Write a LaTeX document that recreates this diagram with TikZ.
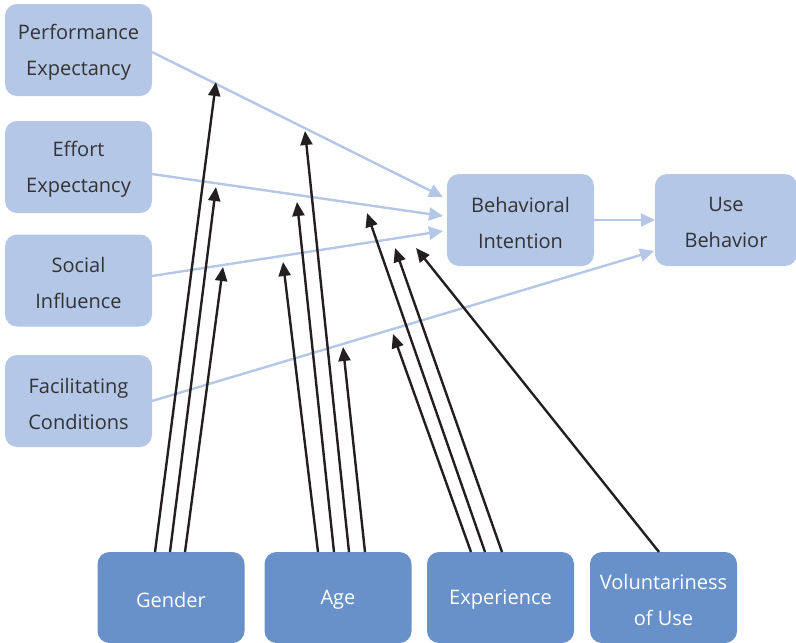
\documentclass[tikz,border=0pt]{standalone}
\usepackage{fontspec}
\setmainfont{Open Sans}
\usetikzlibrary{arrows.meta}
\definecolor{lightbox}{HTML}{B4C7E7}
\definecolor{darkbox}{HTML}{6891CA}
\definecolor{txt}{HTML}{333333}
\definecolor{blk}{HTML}{231F20}
\tikzset{
  topbox/.style={draw=none, fill=lightbox, rounded corners=12pt, minimum width=147pt, minimum height=92pt,
    inner sep=0pt},
  botbox/.style={draw=none, fill=darkbox, rounded corners=12pt, minimum width=147pt, minimum height=91pt,
    inner sep=0pt},
  toptext/.style={inner sep=0pt, align=center, text=txt, font=\fontsize{20}{36}\selectfont, yshift=-2.5pt},
  bottext/.style={inner sep=0pt, align=center, text=white, font=\fontsize{20}{36}\selectfont, yshift=-2.5pt},
  blueline/.style={draw=lightbox, line width=2.4pt, -{Triangle[length=14pt,width=13pt]}},
  modline/.style={draw=blk, line width=2.4pt, -{Triangle[length=14pt,width=12pt]}},
}
\begin{document}
\begin{tikzpicture}[x=1pt,y=-1pt]
\useasboundingbox (0,0) rectangle (796,643);
% top boxes
\node[topbox] (pe) at (78.5,50) {};
\node[toptext] (peT) at (pe.center) {Performance\\Expectancy};
\node[topbox] (ee) at (78.5,167) {};
\node[toptext] (eeT) at (ee.center) {Effort\\Expectancy};
\node[topbox] (si) at (78.5,280.5) {};
\node[toptext] (siT) at (si.center) {Social\\Influence};
\node[topbox] (fc) at (78.5,401) {};
\node[toptext] (fcT) at (fc.center) {Facilitating\\Conditions};
\node[topbox] (bi) at (520.5,220) {};
\node[toptext] (biT) at (bi.center) {Behavioral\\Intention};
\node[topbox, minimum width=142pt] (ub) at (726,220) {};
\node[toptext] (ubT) at (ub.center) {Use\\Behavior};
% bottom boxes
\node[botbox] (gen) at (171,597.5) {};
\node[bottext] (genT) at (gen.center) {Gender};
\node[botbox] (age) at (338,597.5) {};
\node[bottext] (ageT) at (age.center) {Age};
\node[botbox] (exp) at (500.5,597.5) {};
\node[bottext] (expT) at (exp.center) {Experience};
\node[botbox] (vol) at (663.5,597.5) {};
\node[bottext] (volT) at (vol.center) {Voluntariness\\of Use};
% blue connector endpoints
\coordinate (peS) at (152,52);
\coordinate (eeS) at (152,174);
\coordinate (siS) at (152,276);
\coordinate (fcS) at (152,401);
\coordinate (biA) at (443,197);
\coordinate (biB) at (443,216);
\coordinate (biC) at (443,231);
\coordinate (ubA) at (655,220);
\coordinate (ubB) at (654,251);
\draw[blueline] (peS) -- (biA);
\draw[blueline] (eeS) -- (biB);
\draw[blueline] (siS) -- (biC);
\draw[blueline] (fcS) -- (ubB);
\draw[blueline] (bi.east) -- (ubA);
% moderator start points
\coordinate (g1) at (155,552);
\coordinate (g2) at (170,552);
\coordinate (g3) at (185,552);
\coordinate (a1) at (318,552);
\coordinate (a2) at (334,552);
\coordinate (a3) at (349,552);
\coordinate (a4) at (365,552);
\coordinate (e1) at (471,552);
\coordinate (e2) at (485,552);
\coordinate (e3) at (502,552);
\coordinate (v1) at (659,552);
% moderator tips
\coordinate (tg1) at (216,82);
\coordinate (tg2) at (216,187);
\coordinate (tg3) at (223,267);
\coordinate (ta1) at (283,262);
\coordinate (ta2) at (297,202);
\coordinate (ta3) at (305,131);
\coordinate (ta4) at (343,347);
\coordinate (te1) at (393,334);
\coordinate (te2) at (367,213);
\coordinate (te3) at (395,248);
\coordinate (tv1) at (416,248);
\draw[modline] (g1) -- (tg1);
\draw[modline] (g2) -- (tg2);
\draw[modline] (g3) -- (tg3);
\draw[modline] (a1) -- (ta1);
\draw[modline] (a2) -- (ta2);
\draw[modline] (a3) -- (ta3);
\draw[modline] (a4) -- (ta4);
\draw[modline] (e1) -- (te1);
\draw[modline] (e2) -- (te2);
\draw[modline] (e3) -- (te3);
\draw[modline] (v1) -- (tv1);
\end{tikzpicture}
\end{document}
